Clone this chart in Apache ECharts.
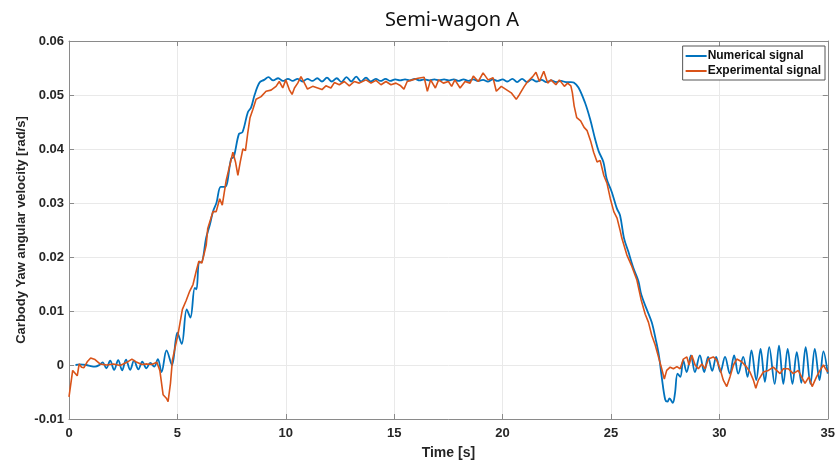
<!DOCTYPE html>
<html>
<head>
<meta charset="utf-8">
<script src="https://fastly.jsdelivr.net/npm/echarts@6/dist/echarts.min.js"></script>
<style>
  html, body { margin: 0; padding: 0; background: #fff; }
  #root { width: 838px; height: 465px; }
</style>
</head>
<body>
<div id="root"></div>
<script>
// time [s] / value [rad/s] pairs
var numTime = [0.3,0.5,0.8,1.0,1.2,1.4,1.55,1.72,1.9,2.08,2.27,2.45,2.63,2.82,3.0,3.2,3.38,3.57,3.75,3.93,4.1,4.27,4.5,4.75,5.0,5.2,5.43,5.6,5.8,5.88,6.0,6.1,6.33,6.5,6.64,6.8,7.0,7.2,7.48,7.6,7.84,8.0,8.25,8.4,8.56,8.79,9.0,
  9.2,9.42,9.65,9.87,10.1,10.32,10.55,10.77,11.0,11.22,11.45,11.67,11.9,12.12,12.35,12.57,12.8,13.02,13.25,13.47,13.7,13.92,14.15,14.37,14.6,14.82,15.05,15.27,15.5,15.72,15.95,16.17,16.4,16.62,16.85,17.07,17.3,17.52,17.75,17.97,18.2,18.42,18.65,18.87,19.1,19.32,19.55,19.77,20.0,20.22,20.45,20.67,20.9,21.12,21.35,21.57,21.8,22.02,22.25,22.47,22.7,22.92,23.15,23.28,
  23.5,23.8,24.04,24.27,24.43,24.65,24.8,25.04,25.27,25.42,25.6,25.8,26.03,26.26,26.4,26.65,26.88,27.06,27.21,27.34,27.5,27.6,27.7,27.85,27.95,28.07,28.2,28.33,28.49,28.69,28.87,29.1,29.3,29.48,29.67,29.85,30.05,30.26,30.48,30.68,30.87,31.1,31.3,31.48,31.7,31.9,32.1,32.3,32.55,32.75,32.95,33.15,33.37,33.57,33.78,33.98,34.2,34.4,34.62,34.8,35.0]
var numValue = [0.0,0.0001,0.0,-0.0002,-0.0003,0.0,0.0005,-0.0006,0.0008,-0.0009,0.0009,-0.001,0.001,-0.0009,0.0008,-0.0008,0.0006,-0.0006,0.0004,-0.0003,0.0011,-0.0013,0.0027,0.0,0.006,0.0039,0.0103,0.0088,0.0143,0.014,0.019,0.019,0.0236,0.026,0.0284,0.03,0.033,0.033,0.0382,0.0385,0.0428,0.0431,0.0468,0.0477,0.05,0.0523,0.0528,
  0.0533,0.0527,0.0531,0.0526,0.053,0.0526,0.053,0.0525,0.053,0.0526,0.0531,0.0525,0.0532,0.0525,0.0531,0.0524,0.0533,0.0525,0.0534,0.0525,0.0532,0.0525,0.053,0.0526,0.053,0.0526,0.0529,0.0527,0.0529,0.0527,0.053,0.0527,0.0529,0.0527,0.0529,0.0527,0.0529,0.0527,0.0529,0.0526,0.0529,0.0526,0.0529,0.0526,0.0528,0.0525,0.0529,0.0526,0.0529,0.0525,0.053,0.0524,0.053,0.0524,0.0529,0.0525,0.0528,0.0524,0.0527,0.0524,0.0526,0.0524,0.0524,0.0523,
  0.0514,0.0486,0.0455,0.0418,0.0396,0.0376,0.0345,0.032,0.029,0.0277,0.0235,0.021,0.018,0.0156,0.013,0.0103,0.0079,0.0048,0.0018,-0.0022,-0.0064,-0.0068,-0.0062,-0.007,-0.0053,-0.0016,-0.0022,0.0009,-0.0013,0.0018,-0.0013,0.0018,-0.0013,0.0015,-0.0011,0.0015,-0.0013,0.0015,-0.0016,0.0018,-0.0016,0.0015,-0.0022,0.0027,-0.0028,0.003,-0.0031,0.0033,-0.0035,0.0036,-0.0035,0.003,-0.0035,0.0024,-0.0033,0.0033,-0.0035,0.003,-0.0028,0.0025,-0.0016]

var expTime = [0,0.17,0.25,0.38,0.47,0.58,0.69,0.84,1.0,1.2,1.43,1.74,2.05,2.36,2.67,2.9,3.13,3.36,3.6,3.82,4.05,4.19,4.34,4.5,4.57,4.68,4.77,4.88,5.03,5.23,5.4,5.57,5.72,5.87,5.99,6.13,6.33,6.4,6.64,6.79,6.95,7.07,7.25,7.56,7.68,7.79,7.9,8.02,8.14,8.25,8.35,8.48,8.63,8.86,9.09,9.32,9.55,9.7,9.86,10.0,10.16,10.29,10.4,10.55,10.7,10.86,11.0,11.24,11.47,11.67,11.85,12.08,12.24,12.47,12.7,12.93,13.16,13.39,13.7,13.93,14.16,14.39,14.62,14.85,15.08,15.3,15.45,15.6,15.84,16.1,16.38,16.53,16.68,16.9,17.05,17.27,17.5,17.65,17.8,18.04,18.27,18.5,18.65,18.88,19.1,19.33,19.56,19.71,19.94,20.17,20.4,20.63,20.78,21.0,21.16,21.39,21.54,21.7,21.9,22.08,22.23,22.46,22.62,22.85,23.0,23.15,23.22,23.3,23.42,23.6,23.76,23.9,24.06,24.2,24.36,24.5,24.67,24.82,24.97,25.13,25.28,25.43,25.5,25.73,25.96,26.19,26.39,26.58,26.73,26.88,27.04,27.19,27.34,27.46,27.57,27.73,27.88,28.04,28.19,28.34,28.5,28.6,28.73,28.88,29.03,29.19,29.34,29.49,29.72,29.88,30.03,30.18,30.34,30.49,30.65,30.8,31.03,31.26,31.41,31.57,31.68,31.8,32.03,32.26,32.49,32.64,32.8,32.95,33.18,33.41,33.64,33.79,33.95,34.13,34.28,34.48,34.64,34.8,34.9,35.0]
var expValue = [-0.0059,-0.001,-0.0012,-0.002,0.0002,-0.0004,-0.0005,0.0006,0.0013,0.001,0.0002,0.0,0.0002,-0.0001,0.0005,0.0011,0.0005,0.0001,0.0002,0.0001,0.0005,-0.001,-0.0055,-0.0062,-0.0068,-0.0034,0.0009,0.003,0.0057,0.0103,0.0119,0.0137,0.0149,0.0174,0.0192,0.0189,0.0222,0.0253,0.0284,0.0284,0.0308,0.0296,0.0342,0.0394,0.0376,0.0351,0.0376,0.04,0.0397,0.0431,0.0458,0.0473,0.0492,0.0497,0.0507,0.0509,0.0516,0.0525,0.0513,0.0528,0.051,0.0501,0.0513,0.0522,0.0534,0.0522,0.0511,0.0516,0.0513,0.051,0.0517,0.0513,0.0523,0.0519,0.0525,0.0517,0.0525,0.0522,0.0528,0.0522,0.0527,0.0519,0.0525,0.0519,0.0522,0.0517,0.0511,0.0525,0.0528,0.0531,0.0533,0.0507,0.0528,0.0513,0.0528,0.0522,0.0525,0.0516,0.0528,0.0513,0.0525,0.0522,0.0535,0.0525,0.0541,0.0528,0.0532,0.0507,0.0516,0.051,0.0504,0.0492,0.0501,0.0516,0.0525,0.0534,0.0542,0.0525,0.0544,0.0522,0.0528,0.0519,0.0528,0.0516,0.0522,0.0517,0.0504,0.048,0.0458,0.0452,0.044,0.0434,0.0415,0.0394,0.0376,0.0379,0.0351,0.0336,0.0308,0.0284,0.0272,0.0248,0.0235,0.0204,0.0183,0.0158,0.0121,0.0094,0.0079,0.0055,0.0037,0.0015,-0.0007,-0.0026,-0.001,-0.0004,-0.0007,-0.0003,-0.0007,0.0011,0.0015,0.0,0.0018,0.0,-0.0007,0.0002,-0.0007,0.0011,0.0015,0.0009,-0.0007,-0.0028,-0.004,-0.0022,0.0,0.0011,0.0006,-0.0004,-0.0013,-0.0028,-0.0043,-0.0028,-0.0013,-0.001,-0.0004,-0.001,-0.0016,-0.0007,-0.0007,-0.0016,-0.001,-0.0022,-0.0034,-0.0022,-0.004,-0.0022,-0.001,0.0,-0.0007,-0.0013]

var xTicks = { min: 0, max: 35, interval: 5 }
var yTicks = { min: -0.01, max: 0.06, interval: 0.01 }
var seriesNames = ['Numerical signal', 'Experimental signal']

var pair = function (ts, vs) {
  return ts.map(function (t, i) { return [t, vs[i]] })
}

var axisGrey = '#8a8a8a'
var labelStyle = { color: '#262626', fontFamily: 'Liberation Sans', fontWeight: 'bold', fontSize: 13 }

var myChart = echarts.init(document.getElementById('root'))

var option = {
  animation: false,
  backgroundColor: '#fff',
  title: {
    text: 'Semi-wagon A',
    left: 447, top: 5, textAlign: 'center',
    textStyle: { fontFamily: 'Noto Sans', fontWeight: 'normal', fontSize: 20, color: '#111' }
  },
  legend: {
    data: seriesNames,
    orient: 'vertical',
    right: 13, top: 46,
    itemWidth: 21, itemHeight: 2, itemGap: 3,
    icon: 'rect',
    padding: [4, 4, 3, 3],
    borderColor: '#555', borderWidth: 1, backgroundColor: '#fff',
    textStyle: { color: '#111', fontFamily: 'Liberation Sans', fontWeight: 'bold', fontSize: 12, padding: [0, 0, 0, -4] }
  },
  grid: { left: 69, right: 8, top: 41, bottom: 43, show: false },
  xAxis: [{
    type: 'value', min: xTicks.min, max: xTicks.max, interval: xTicks.interval,
    name: 'Time [s]', nameLocation: 'middle', nameGap: 27, nameMoveOverlap: false,
    nameTextStyle: { color: '#262626', fontFamily: 'Liberation Sans', fontWeight: 'bold', fontSize: 14 },
    axisLine: { onZero: false, lineStyle: { color: axisGrey } },
    axisTick: { inside: true, length: 5, lineStyle: { color: axisGrey } },
    axisLabel: Object.assign({ margin: 8 }, labelStyle),
    splitLine: { show: true, lineStyle: { color: '#e9e9e9' } }
  }, {
    type: 'value', position: 'top', min: xTicks.min, max: xTicks.max, interval: xTicks.interval,
    axisLine: { show: true, onZero: false, lineStyle: { color: axisGrey } },
    axisTick: { inside: true, length: 5, lineStyle: { color: axisGrey } },
    axisLabel: { show: false }, splitLine: { show: false }
  }],
  yAxis: [{
    type: 'value', min: yTicks.min, max: yTicks.max, interval: yTicks.interval,
    name: 'Carbody Yaw angular velocity [rad/s]', nameLocation: 'middle', nameGap: 41, nameMoveOverlap: false,
    nameTextStyle: { color: '#262626', fontFamily: 'Liberation Sans', fontWeight: 'bold', fontSize: 13 },
    axisLine: { show: true, onZero: false, lineStyle: { color: axisGrey } },
    axisTick: { show: true, inside: true, length: 5, lineStyle: { color: axisGrey } },
    axisLabel: Object.assign({ margin: 5 }, labelStyle),
    splitLine: { show: true, lineStyle: { color: '#e9e9e9' } }
  }, {
    type: 'value', position: 'right', min: yTicks.min, max: yTicks.max, interval: yTicks.interval,
    axisLine: { show: true, onZero: false, lineStyle: { color: axisGrey } },
    axisTick: { show: true, inside: true, length: 5, lineStyle: { color: axisGrey } },
    axisLabel: { show: false }, splitLine: { show: false }
  }],
  series: [{
    name: seriesNames[0], type: 'line', data: pair(numTime, numValue),
    showSymbol: false, smooth: 0.35,
    lineStyle: { color: '#0072BD', width: 1.8 }, itemStyle: { color: '#0072BD' }
  }, {
    name: seriesNames[1], type: 'line', data: pair(expTime, expValue),
    showSymbol: false,
    lineStyle: { color: '#D95319', width: 1.6 }, itemStyle: { color: '#D95319' }
  }]
}

myChart.setOption(option)
</script>
</body>
</html>
